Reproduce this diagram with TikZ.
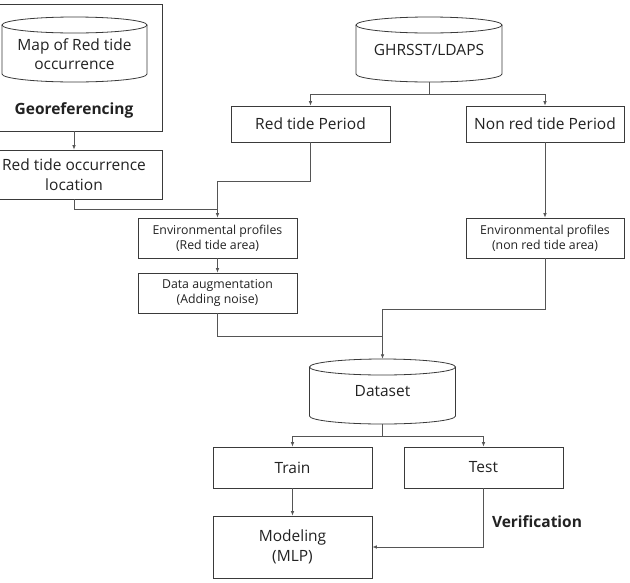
\documentclass[tikz,border=0pt]{standalone}
\usepackage{fontspec}
\setmainfont{Open Sans}
\usetikzlibrary{arrows.meta}
\definecolor{ln}{HTML}{3A3A3A}
\definecolor{cn}{HTML}{555555}
\definecolor{tx}{HTML}{222222}
\tikzset{
  box/.style={draw=ln, line width=0.8pt, inner sep=0pt, align=center, text=tx,
    font=\fontsize{15.5}{19.5}\selectfont},
  sbox/.style={box, font=\fontsize{12.3}{15}\selectfont},
  conn/.style={draw=cn, line width=0.8pt},
  arr/.style={conn, -{Latex[length=4.5pt,width=3.6pt]}},
  lbl/.style={text=tx, inner sep=0pt, font=\bfseries\fontsize{15.5}{17}\selectfont},
  cylnode/.style={inner sep=0pt, align=center, text=tx, font=\fontsize{15.5}{19.5}\selectfont},
  cylline/.style={draw=ln, line width=0.8pt}
}
\newcommand\cylshape[5]{% cx, top, bottom, half width, y radius
  \draw[cylline] (#1,{#2+#5}) ellipse [x radius=#4pt, y radius=#5pt];
  \draw[cylline] ({#1-#4},{#2+#5}) -- ({#1-#4},{#3-#5})
    .. controls ({#1-#4},{#3-#5+0.5523*#5}) and ({#1-0.5523*#4},#3) .. (#1,#3)
    .. controls ({#1+0.5523*#4},#3) and ({#1+#4},{#3-#5+0.5523*#5}) .. ({#1+#4},{#3-#5})
    -- ({#1+#4},{#2+#5});
}
\begin{document}
\begin{tikzpicture}[x=1pt,y=-1pt]
\clip (0,0) rectangle (630,582);
\fill[white] (0,0) rectangle (630,582);

% left column
\node[box, minimum width=176pt, minimum height=127pt] (geo) at (74,67.5) {};
\cylshape{74.5}{17}{82}{72.5}{8}
\node[cylnode, minimum width=145pt, minimum height=65pt] (map) at (74.5,54) {Map of Red tide\\occurrence};
\node[lbl] (georef) at (74,110) {Georeferencing};
\node[box, minimum width=176pt, minimum height=49pt] (loc) at (74,174.5) {Red tide occurrence\\location};

% top right
\cylshape{429}{17}{82}{73}{8}
\node[cylnode, minimum width=146pt, minimum height=65pt] (ghr) at (429,49.5) {GHRSST/LDAPS};
\node[box, minimum width=159pt, minimum height=36pt] (rtp) at (310.5,124) {Red tide Period};
\node[box, minimum width=158pt, minimum height=36pt] (nrtp) at (545,124) {Non red tide Period};

% environmental profiles
\node[sbox, minimum width=159pt, minimum height=40pt] (env1) at (217.5,238) {Environmental profiles\\(Red tide area)};
\node[sbox, minimum width=159pt, minimum height=40pt] (aug) at (217.5,293) {Data augmentation\\(Adding noise)};
\node[sbox, minimum width=158pt, minimum height=40pt] (env2) at (545,238) {Environmental profiles\\(non red tide area)};

% dataset
\cylshape{382.5}{359}{424}{73}{8}
\node[cylnode, minimum width=146pt, minimum height=65pt] (data) at (382.5,391.5) {Dataset};
\node[box, minimum width=159pt, minimum height=41pt] (train) at (292.5,467.5) {Train};
\node[box, minimum width=159pt, minimum height=41pt] (test) at (483.5,467.5) {Test};
\node[box, minimum width=159pt, minimum height=62pt] (model) at (292.5,547) {Modeling\\(MLP)};
\node[lbl] (verif) at (537,522) {Verification};

% junction points
\coordinate (j1) at (429,94);
\coordinate (j2) at (217.5,181);
\coordinate (j3) at (217.5,209);
\coordinate (j4) at (382.5,336);
\coordinate (j5) at (382.5,436);

% connectors
\draw[arr] (geo.south) -- (loc.north);
\draw[conn] (ghr.south) -- (j1);
\draw[arr] (j1) -| (rtp.north);
\draw[arr] (j1) -| (nrtp.north);
\draw[conn] (rtp.south) |- (j2);
\draw[arr] (j2) -- (env1.north);
\draw[conn] (loc.south) |- (j3);
\draw[arr] (env1.south) -- (aug.north);
\draw[arr] (nrtp.south) -- (env2.north);
\draw[conn] (aug.south) |- (j4);
\draw[arr] (env2.south) -- ++(0,51) -| (data.north);
\draw[conn] (data.south) -- (j5);
\draw[arr] (j5) -| (train.north);
\draw[arr] (j5) -| (test.north);
\draw[arr] (train.south) -- (model.north);
\draw[arr] (test.south) |- (model.east);
\end{tikzpicture}
\end{document}
